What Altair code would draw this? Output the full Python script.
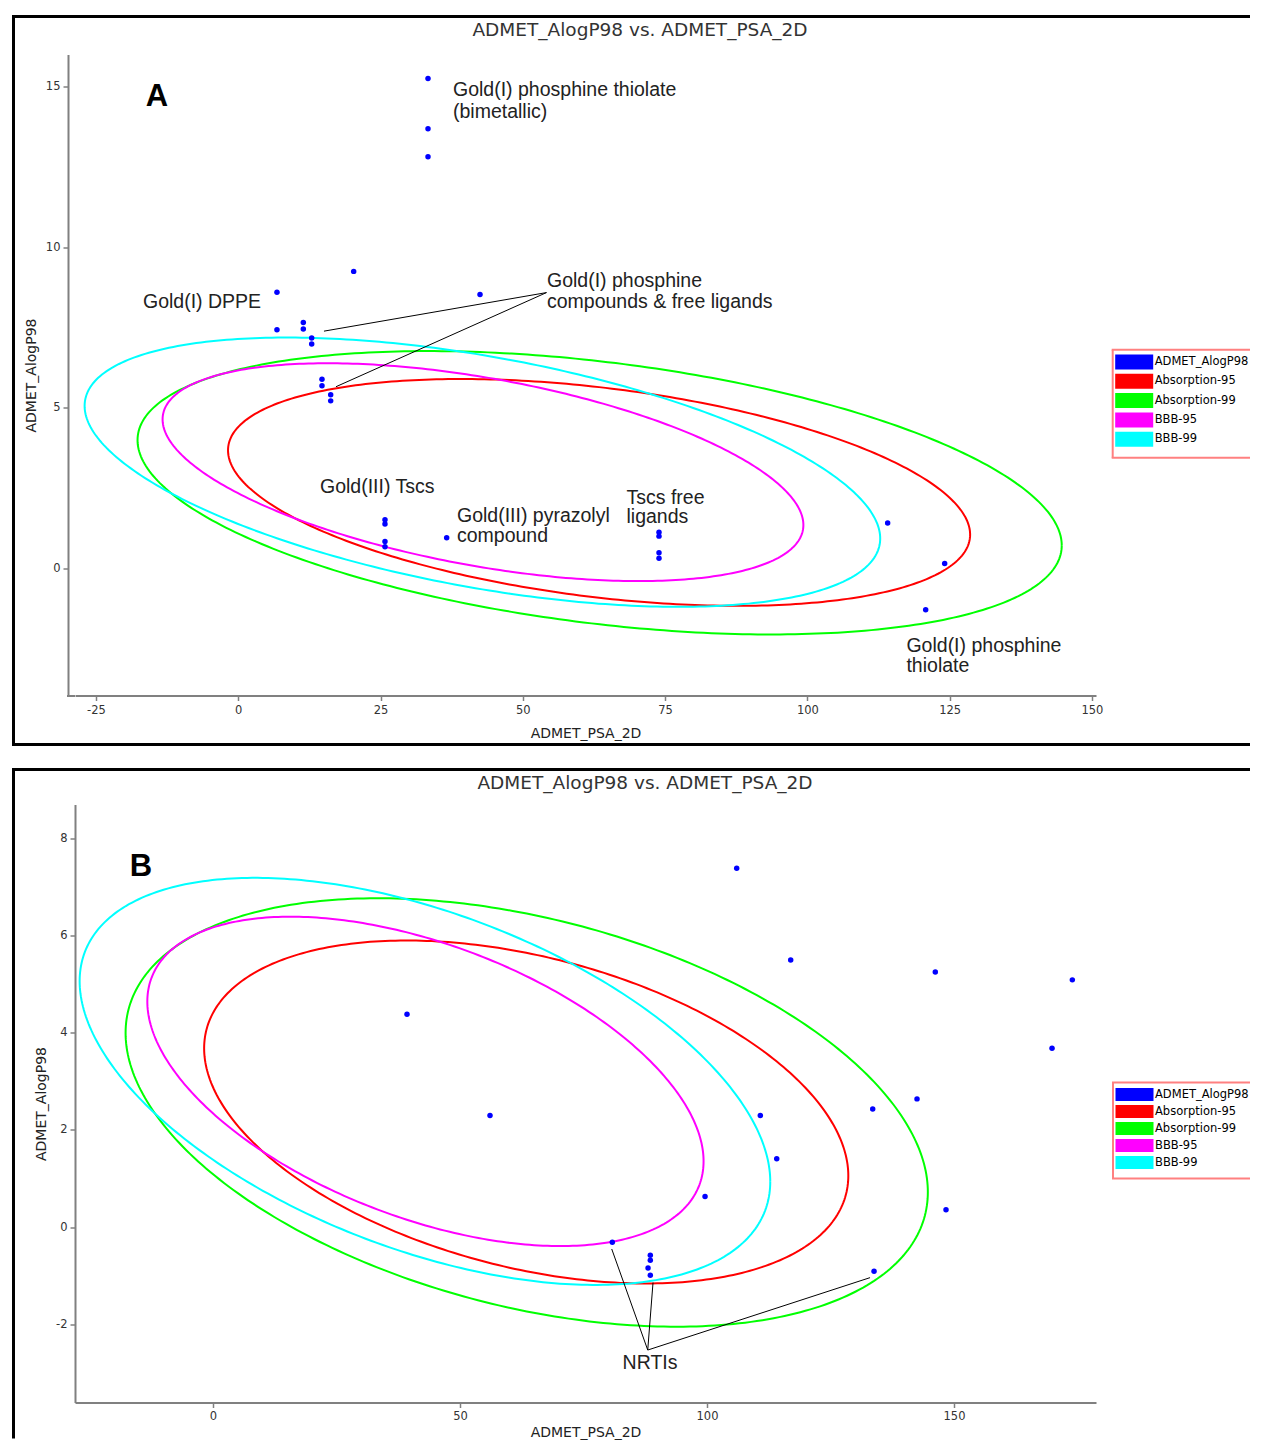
import altair as alt
import numpy as np
import pandas as pd

# ---------------- data: panel A (gold compounds) ----------------
a_psa = [33.34, 33.34, 33.34, 20.28, 6.80, 42.48, 6.80, 11.43, 11.43, 12.90, 12.90,
         14.71, 14.71, 16.24, 16.24, 25.78, 25.78, 25.78, 25.78, 36.62,
         73.93, 73.93, 73.93, 73.93, 114.11, 124.13, 120.79]
a_alogp = [15.25, 13.69, 12.82, 9.25, 8.60, 8.53, 7.43, 7.66, 7.46, 7.18, 6.99,
           5.89, 5.69, 5.41, 5.22, 1.52, 1.39, 0.84, 0.68, 0.96,
           1.13, 1.01, 0.49, 0.32, 1.42, 0.16, -1.28]

# ---------------- data: panel B ----------------
b_psa = [106.01, 116.94, 146.21, 173.95, 169.84, 39.27, 56.07, 110.79, 133.54, 142.51,
         114.11, 99.60, 148.38, 80.83, 88.52, 88.52, 88.06, 88.52, 133.81]
b_alogp = [7.39, 5.50, 5.25, 5.09, 3.68, 4.38, 2.30, 2.30, 2.43, 2.64,
           1.41, 0.63, 0.36, -0.31, -0.58, -0.68, -0.84, -0.99, -0.91]

# ---------------- legend series ----------------
series_names = ["ADMET_AlogP98", "Absorption-95", "Absorption-99", "BBB-95", "BBB-99"]
series_colors = ["#0000ff", "#ff0000", "#00ff00", "#ff00ff", "#00ffff"]

# ---------------- confidence ellipses (PSA_2D vs AlogP98) ----------------
ell_names = ["Absorption-95", "Absorption-99", "BBB-95", "BBB-99"]
ell_cx = [63.4, 63.5, 43.0, 42.9]
ell_cy = [2.37, 2.36, 3.0, 3.0]
ell_rx = [65.2, 81.2, 56.3, 69.9]
ell_ry = [3.53, 4.41, 3.39, 4.19]
ell_phase = [111.8, 111.8, 119.0, 119.5]

# ---------------- annotations ----------------
a_lbl_text = ["Gold(I) phosphine thiolate", "(bimetallic)", "Gold(I) DPPE",
              "Gold(I) phosphine", "compounds & free ligands", "Gold(III) Tscs",
              "Gold(III) pyrazolyl", "compound", "Tscs free", "ligands",
              "Gold(I) phosphine", "thiolate"]
a_lbl_x = [37.73, 37.73, -16.74, 54.25, 54.25, 14.36, 38.43, 38.43, 68.22, 68.22, 117.41, 117.41]
a_lbl_y = [14.88, 14.22, 8.31, 8.96, 8.31, 2.55, 1.63, 1.01, 2.20, 1.59, -2.40, -3.04]
a_line_x = [54.16, 54.16]
a_line_y = [8.59, 8.59]
a_line_x2 = [15.06, 17.17]
a_line_y2 = [7.39, 5.66]
a_letter = ["A"]
a_letter_x = [-14.28]
a_letter_y = [14.69]

b_lbl_text = ["NRTIs"]
b_lbl_x = [88.46]
b_lbl_y = [-2.79]
b_line_x = [88.0, 88.0, 88.0]
b_line_y = [-2.53, -2.53, -2.53]
b_line_x2 = [80.71, 89.07, 133.0]
b_line_y2 = [-0.45, -1.14, -1.04]
b_letter = ["B"]
b_letter_x = [-14.57]
b_letter_y = [7.41]

title_text = "ADMET_AlogP98 vs. ADMET_PSA_2D"

# ---------------- build tables ----------------
t = np.linspace(0, 2 * np.pi, 361)
rows = []
for name, cx, cy, rx, ry, ph in zip(ell_names, ell_cx, ell_cy, ell_rx, ell_ry, ell_phase):
    xs_ = cx + rx * np.cos(t)
    ys_ = cy + ry * np.cos(t - np.radians(ph))
    for i, (xx, yy) in enumerate(zip(xs_, ys_)):
        rows.append({"series": name, "i": i, "psa": float(xx), "alogp": float(yy)})
ell_df = pd.DataFrame(rows)

one = pd.DataFrame({"k": [0]})
label_expr = "'' + datum.value"
RIGHT_EDGE = 1175  # px from view origin (x = 75 on the page)


def rule(x, y, x2=None, y2=None, color="black", width=3):
    enc = {"x": alt.value(x), "y": alt.value(y)}
    if x2 is not None:
        enc["x2"] = alt.value(x2)
    if y2 is not None:
        enc["y2"] = alt.value(y2)
    return alt.Chart(one).mark_rule(color=color, strokeWidth=width).encode(**enc)


def legend_layers(box, sw_top, step, sw_h):
    bx, by, bbot = box
    leg = pd.DataFrame({"series": series_names, "idx": list(range(len(series_names)))})
    leg["ly"] = sw_top + leg["idx"] * step
    leg["ly2"] = leg["ly"] + sw_h
    leg["lyc"] = leg["ly"] + sw_h / 2
    cscale = alt.Scale(domain=series_names, range=series_colors)
    swatch = alt.Chart(leg).mark_rect().encode(
        x=alt.value(bx + 2.5), x2=alt.value(bx + 40.5),
        y=alt.Y("ly:Q", scale=None), y2="ly2:Q",
        color=alt.Color("series:N", scale=cscale, legend=None))
    labels = alt.Chart(leg).mark_text(align="left", baseline="middle", font="DejaVu Sans",
                                      fontSize=11.5, color="black").encode(
        x=alt.value(bx + 42), y=alt.Y("lyc:Q", scale=None), text="series:N")
    c = "#ff8080"
    return [rule(bx - 1, by, RIGHT_EDGE, None, c, 2), rule(bx, by, None, bbot, c, 2),
            rule(bx - 1, bbot, RIGHT_EDGE, None, c, 2), swatch, labels]


def panel(psa, alogp, lbl_text, lbl_x, lbl_y, lx, ly, lx2, ly2, letter, letter_x, letter_y,
          xdom, ydom, xvals, yvals, height, frame, title_pos, legend_spec,
          x_label_pad, x_title_pad, y_offset, bottom_line):
    xs = alt.Scale(domain=xdom, nice=False, zero=False)
    ys = alt.Scale(domain=ydom, nice=False, zero=False)
    xax = alt.Axis(title="ADMET_PSA_2D", values=xvals, grid=False, labelExpr=label_expr,
                   labelPadding=x_label_pad, titlePadding=x_title_pad)
    yax = alt.Axis(title="ADMET_AlogP98", values=yvals, grid=False, labelExpr=label_expr,
                   labelPadding=3, titlePadding=7, offset=y_offset)

    left, top, bottom = frame
    layers = [rule(left - 1.5, top, RIGHT_EDGE), rule(left, top, None, bottom)]
    if bottom_line:
        layers.append(rule(left - 1.5, bottom, RIGHT_EDGE))
    if y_offset:
        # join the x-axis line to the (offset) y-axis line
        layers.append(rule(-y_offset - 1, height + 0.5, 0, None, "#808080", 2))

    title = alt.Chart(one).mark_text(font="DejaVu Sans", fontSize=18.5, color="#333333",
                                     align="center", baseline="middle").encode(
        x=alt.value(title_pos[0]), y=alt.value(title_pos[1]), text=alt.value(title_text))

    ell = alt.Chart(ell_df).mark_line(strokeWidth=2, clip=True).encode(
        x=alt.X("psa:Q", scale=xs, axis=xax),
        y=alt.Y("alogp:Q", scale=ys, axis=yax),
        stroke=alt.Stroke("series:N",
                          scale=alt.Scale(domain=series_names, range=series_colors),
                          legend=None),
        order=alt.Order("i:Q"),
    )

    ldf = pd.DataFrame({"x": lx, "y": ly, "x2": lx2, "y2": ly2})
    lines = alt.Chart(ldf).mark_rule(color="black", strokeWidth=1).encode(
        x=alt.X("x:Q", scale=xs, axis=xax), y=alt.Y("y:Q", scale=ys, axis=yax),
        x2="x2:Q", y2="y2:Q")

    pdf = pd.DataFrame({"psa": psa, "alogp": alogp})
    pts = alt.Chart(pdf).mark_circle(size=30, opacity=1, color=series_colors[0]).encode(
        x=alt.X("psa:Q", scale=xs, axis=xax),
        y=alt.Y("alogp:Q", scale=ys, axis=yax),
    )

    tdf = pd.DataFrame({"x": lbl_x, "y": lbl_y, "t": lbl_text})
    txt = alt.Chart(tdf).mark_text(font="Liberation Sans", fontSize=19.5, color="#222222",
                                   align="left" if len(lbl_text) > 1 else "center",
                                   baseline="middle").encode(
        x=alt.X("x:Q", scale=xs, axis=xax), y=alt.Y("y:Q", scale=ys, axis=yax), text="t:N")

    let_df = pd.DataFrame({"x": letter_x, "y": letter_y, "t": letter})
    let = alt.Chart(let_df).mark_text(font="Liberation Sans", fontSize=31, fontWeight="bold",
                                      color="black", align="center", baseline="middle").encode(
        x=alt.X("x:Q", scale=xs, axis=xax), y=alt.Y("y:Q", scale=ys, axis=yax), text="t:N")

    return layers + [title, ell, lines, pts, txt, let] + legend_layers(*legend_spec)


# Both views have their origin at x=75 px (concat aligns view origins).
# Panel A: y-axis line drawn 7px further left (x=68); plot top at y=54; frame top 16, bottom 744
la = panel(a_psa, a_alogp, a_lbl_text, a_lbl_x, a_lbl_y, a_line_x, a_line_y, a_line_x2, a_line_y2,
           a_letter, a_letter_x, a_letter_y,
           [-28.69, 150.72], [-3.95, 16.0], [-25, 0, 25, 50, 75, 100, 125, 150], [0, 5, 10, 15],
           641, (-61.5, -38, 690), (565, -24.5),
           ((1037.7, 295.3, 403.3), 300.0, 19.3, 15), 4, 10, 7, True)
chart_a = alt.layer(*la).properties(width=1021, height=641)

# Panel B: plot origin at (75, 803) px; frame left 13.5, top 768
lb = panel(b_psa, b_alogp, b_lbl_text, b_lbl_x, b_lbl_y, b_line_x, b_line_y, b_line_x2, b_line_y2,
           b_letter, b_letter_x, b_letter_y,
           [-27.94, 178.74], [-3.61, 8.70], [0, 50, 100, 150], [-2, 0, 2, 4, 6, 8],
           598, (-61.5, -35, 634), (570, -22),
           ((1038, 278, 374), 283.5, 17, 13), 3, 3, 0, False)
chart_b = alt.layer(*lb).properties(width=1021, height=598)

chart = alt.concat(chart_a, chart_b, columns=1, spacing=21).resolve_scale(
    x="independent", y="independent", stroke="independent", color="independent"
).properties(
    padding={"left": 2, "top": 6.5, "right": 0, "bottom": 0}
).configure_view(stroke=None).configure_axis(
    domainColor="#808080", domainWidth=2, tickColor="#808080", tickWidth=1.5, tickSize=5,
    labelFont="DejaVu Sans", labelFontSize=11.5, labelColor="#333333",
    titleFont="DejaVu Sans", titleFontSize=14, titleFontWeight="normal", titleColor="#222222"
)

chart.save("out.html", embed_options={"renderer": "svg", "actions": False})
